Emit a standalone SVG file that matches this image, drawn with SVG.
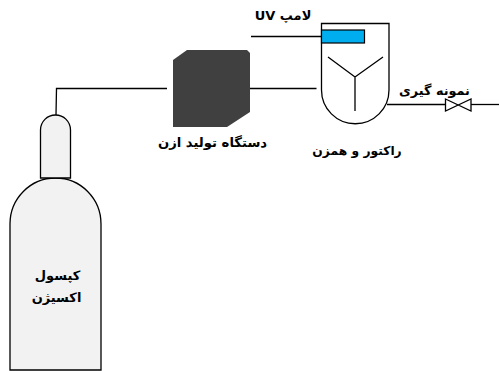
<svg xmlns="http://www.w3.org/2000/svg" width="499" height="371" viewBox="0 0 499 371">
<style>
.l{fill:none;stroke:#000;stroke-width:1.3}
.c{fill:#f2f2f2;stroke:#000;stroke-width:1.3}
text{font-family:"DejaVu Sans",sans-serif;font-weight:bold;font-size:13px;fill:#000;text-anchor:middle}
</style>
<rect width="499" height="371" fill="#fff"/>
<g id="connectors">
<path class="l" d="M56 115L56.500 88.500H167"/>
<path class="l" d="M250 88.500H316.500"/>
<path class="l" d="M251 36.500H322"/>
<path class="l" d="M387 104.500H445"/>
<path class="l" d="M471 104.500H499"/>
</g>
<g id="cylinder">
<path class="c" d="M10 370V224A45.500 46 0 0 1 101 224V370Z"/>
<path class="c" d="M40.500 178V130A15 15 0 0 1 70.500 130V178Z"/>
<text x="57.500" y="280" direction="rtl">کپسول</text>
<text x="56.500" y="302" direction="rtl">اکسیژن</text>
</g>
<g id="ozone">
<path fill="#404040" d="M173 60L187 50H247L250 53V112L227 127H173Z"/>
<text x="212.500" y="147" direction="rtl" style="font-size:13.2px">دستگاه تولید ازن</text>
</g>
<g id="reactor">
<path class="l" d="M321.500 23.500H389V90A33.750 33.750 0 0 1 321.500 90Z"/>
<rect x="321.500" y="30" width="43" height="13" fill="#00aeef" stroke="#000" stroke-width="1.200"/>
<path class="l" d="M328 57L355 77L383 57M355 77V111"/>
<text x="357" y="155" direction="rtl" style="font-size:12.300px">راکتور و همزن</text>
</g>
<g id="lamp-label"><text x="283" y="20" direction="rtl">لامپ UV</text></g>
<g id="valve">
<path class="l" d="M445.500 99L471 111V99L445.500 111Z"/>
<text x="434.500" y="95" direction="rtl" style="font-size:12.800px">نمونه گیری</text>
</g>
</svg>
